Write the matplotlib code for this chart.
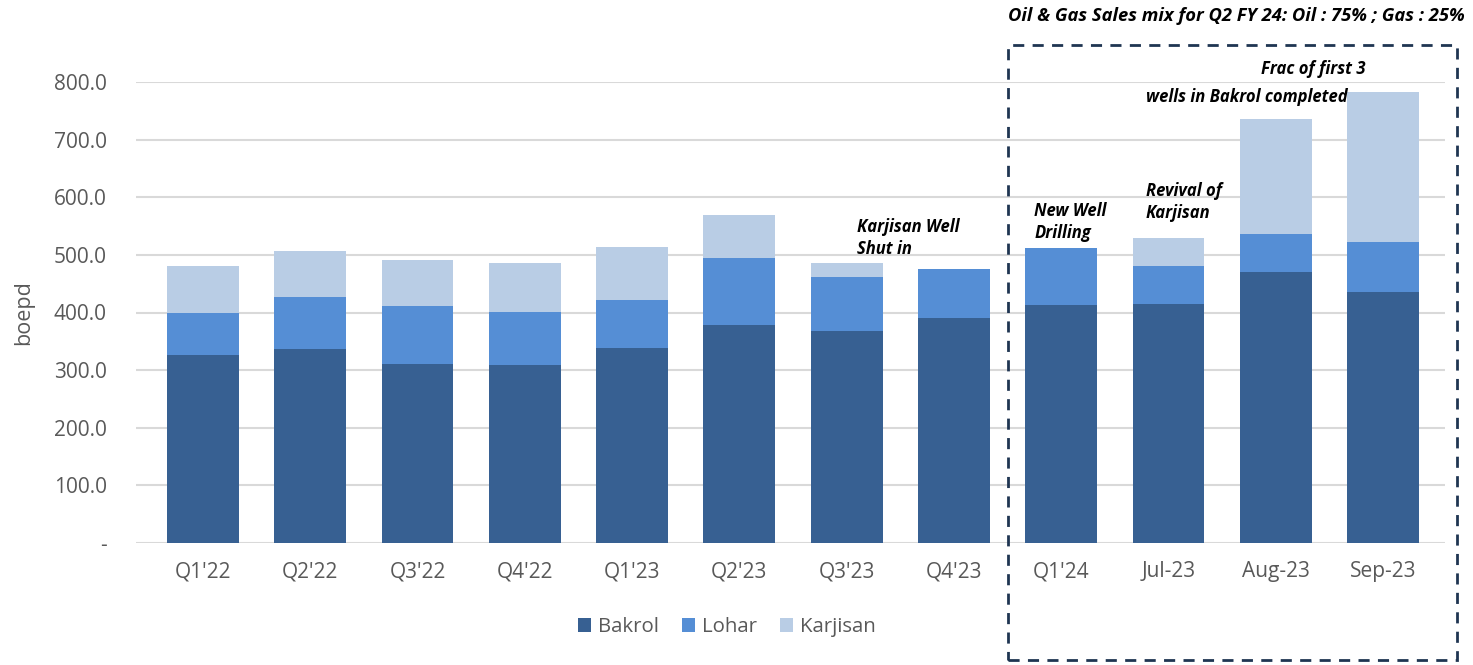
import numpy as np
import matplotlib.pyplot as plt
from matplotlib.patches import Rectangle

categories = ["Q1'22", "Q2'22", "Q3'22", "Q4'22", "Q1'23", "Q2'23", "Q3'23", "Q4'23",
              "Q1'24", "Jul-23", "Aug-23", "Sep-23"]
bakrol = [326, 337, 311, 309, 339, 378, 368, 391, 413, 415, 470, 436]
lohar = [73, 90, 100, 92, 83, 117, 94, 85, 99, 66, 66, 86]
karjisan = [82, 80, 80, 85, 92, 74, 24, 0, 0, 48, 200, 261]

series_names = ["Bakrol", "Lohar", "Karjisan"]
colors = ["#376092", "#558ED5", "#B9CDE5"]

W, H = 1473, 665
fig = plt.figure(figsize=(W / 100, H / 100), dpi=100)
plt.rcParams['font.family'] = ['Open Sans', 'DejaVu Sans']

ax = fig.add_axes([136 / W, 1 - 543 / H, (1445 - 136) / W, (543 - 82) / H])

x = np.arange(len(categories))
bottom = np.zeros(len(categories))
for name, vals, c in zip(series_names, [bakrol, lohar, karjisan], colors):
    ax.bar(x, vals, 0.67, bottom=bottom, color=c, label=name, zorder=2)
    bottom += np.array(vals)

ax.set_xlim(-0.624, len(categories) - 1 + 0.578)
ax.set_ylim(0, 800)
ax.set_yticks(np.arange(0, 801, 100))
ax.set_yticklabels(["-"] + [f"{v:.1f}" for v in range(100, 801, 100)])
ax.set_xticks(x)
ax.set_xticklabels(categories)
ax.tick_params(axis='both', length=0, labelsize=15, colors='#595959')
ax.tick_params(axis='x', pad=13)
ax.tick_params(axis='y', pad=21)
ax.grid(axis='y', color='#D9D9D9', linewidth=1.5, zorder=0)
for s in ax.spines.values():
    s.set_visible(False)
ax.set_ylabel("boepd", fontsize=15.5, color='#595959', labelpad=14)

# annotations
ann = dict(fontsize=12, fontweight='bold', fontstyle='italic', color='black', va='center')
ax.text(6.1, 549, "Karjisan Well", **ann)
ax.text(6.1, 510, "Shut in", **ann)
ax.text(7.75, 576, "New Well", **ann)
ax.text(7.75, 538, "Drilling", **ann)
ax.text(8.79, 611, "Revival of", **ann)
ax.text(8.79, 573, "Karjisan", **ann)
ax.text(9.86, 823, "Frac of first 3", clip_on=False, **ann)
ax.text(8.79, 774, "wells in Bakrol completed", **ann)

fig.text(1008 / W, 1 - 16 / H, "Oil & Gas Sales mix for Q2 FY 24: Oil : 75% ; Gas : 25%",
         fontsize=13.2, fontweight='bold', fontstyle='italic', va='center', ha='left')

box = Rectangle((1008 / W, 1 - 660 / H), (1457 - 1008) / W, (660 - 45) / H,
                transform=fig.transFigure, fill=False, edgecolor='#1F3552',
                linewidth=2, linestyle=(0, (4, 3)))
fig.patches.append(box)

ax.legend(loc='center', bbox_to_anchor=((727 - 136) / (1445 - 136), (543 - 627) / (543 - 82)),
          ncol=3, frameon=False, fontsize=14.7, handlelength=0.65, handleheight=0.65,
          columnspacing=1.1, handletextpad=0.35, labelcolor='#595959')

fig.savefig("out.png", dpi=100)
